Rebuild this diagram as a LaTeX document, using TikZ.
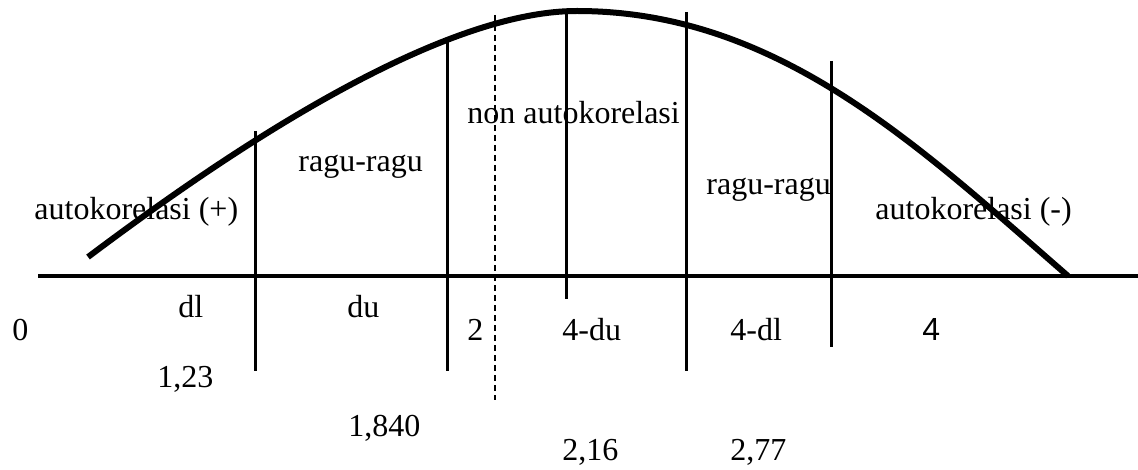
\documentclass[tikz,border=0pt]{standalone}
\usepackage{fontspec}
\setmainfont{Liberation Serif}
\newfontfamily\sansdigit{Liberation Sans}
\begin{document}
\begin{tikzpicture}[x=0.5pt,y=-0.5pt,
  lbl/.style={inner sep=0pt, anchor=base west, font=\fontsize{16}{19}\selectfont},
  bellcurve/.style={line width=3pt},
  axisline/.style={line width=2pt},
  divider/.style={line width=1.5pt},
  midline/.style={line width=0.6pt, dash pattern=on 3pt off 2pt}]
\useasboundingbox (0,0) rectangle (1138,470);
% axis
\coordinate (axL) at (38,276);
\coordinate (axR) at (1138,276);
\draw[axisline] (axL) -- (axR);
% curve
\coordinate (cs) at (88,257);
\coordinate (cp) at (577,11);
\coordinate (ce) at (1068,276);
\draw[bellcurve] (cs) .. controls (208,167) and (430,11) .. (cp)
                      .. controls (777,11) and (918,145.5) .. (ce);
% dividers
\coordinate (d1t) at (255,131); \coordinate (d1b) at (255,371);
\coordinate (d2t) at (447,39);  \coordinate (d2b) at (447,371);
\coordinate (d3t) at (566,13);  \coordinate (d3b) at (566,299);
\coordinate (d4t) at (686,12);  \coordinate (d4b) at (686,371);
\coordinate (d5t) at (831,61);  \coordinate (d5b) at (831,347);
\coordinate (dmt) at (495,15);  \coordinate (dmb) at (495,400);
\draw[divider] (d1t) -- (d1b);
\draw[divider] (d2t) -- (d2b);
\draw[divider] (d3t) -- (d3b);
\draw[divider] (d4t) -- (d4b);
\draw[divider] (d5t) -- (d5b);
\draw[midline] (dmt) -- (dmb);
% region labels
\node[lbl] (apos) at (34,220) {autokorelasi (+)};
\node[lbl] (rr1) at (298,172) {ragu-ragu};
\node[lbl] (non) at (467,124) {non autokorelasi};
\node[lbl] (rr2) at (706,195) {ragu-ragu};
\node[lbl] (aneg) at (875,220) {autokorelasi (-)};
% axis labels
\node[lbl] (l0) at (12,340) {0};
\node[lbl] (ldl) at (178,317) {dl};
\node[lbl] (ldu) at (347,317) {du};
\node[lbl] (l2) at (467,340) {2};
\node[lbl] (l4du) at (562,340) {4-du};
\node[lbl] (l4dl) at (730,340) {4-dl};
\node[lbl, font=\sansdigit\fontsize{16}{19}\selectfont] (l4) at (922,340) {4};
% values
\node[lbl] (v1) at (157,387) {1,23};
\node[lbl] (v2) at (348,436) {1,840};
\node[lbl] (v3) at (562,460) {2,16};
\node[lbl] (v4) at (730,460) {2,77};
\end{tikzpicture}
\end{document}
